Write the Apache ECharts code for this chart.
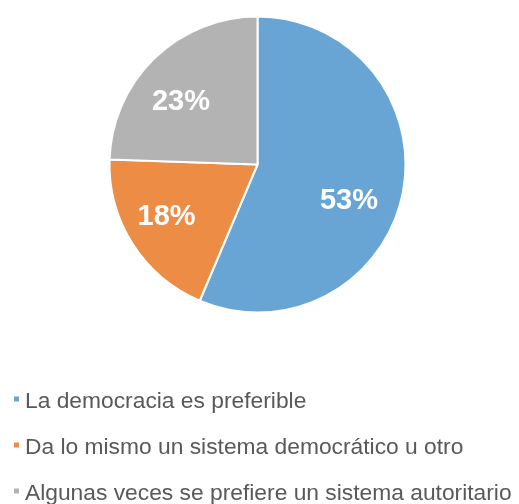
<!DOCTYPE html>
<html>
<head>
<meta charset="utf-8">
<script src="https://cdn.jsdelivr.net/npm/echarts@6/dist/echarts.min.js"></script>
<style>html,body{margin:0;padding:0;background:#fff}#c{width:519px;height:504px}</style>
</head>
<body>
<div id="c"></div>
<script>
var categories = ['La democracia es preferible', 'Da lo mismo un sistema democrático u otro', 'Algunas veces se prefiere un sistema autoritario'];
var values = [53, 18, 23];
var colors = ['#68A5D4', '#ED8D45', '#B3B3B3'];
var labelOffsets = [[16, 21], [-26, 11], [-23, -7]];

var chart = echarts.init(document.getElementById('c'), null, {renderer: 'canvas'});
var FONT = '"Liberation Sans", Arial, sans-serif';
chart.setOption({
  animation: false,
  backgroundColor: '#ffffff',
  legend: {
    orient: 'vertical',
    left: 7,
    top: 379,
    height: 300,
    itemWidth: 7,
    itemHeight: 13,
    itemGap: 10,
    icon: 'path://M0 0H7V7H0Z M0 13H0.01V13.01H0Z',
    data: categories,
    textStyle: {fontFamily: FONT, fontSize: 22.8, color: '#595959', lineHeight: 26, padding: [10, 0, 0, 0]}
  },
  series: [{
    type: 'pie',
    center: [257.5, 164.5],
    radius: [0, 148],
    startAngle: 90,
    clockwise: true,
    avoidLabelOverlap: false,
    itemStyle: {borderColor: '#ffffff', borderWidth: 2},
    label: {
      show: true,
      position: 'inside',
      formatter: '{c}%',
      color: '#ffffff',
      fontFamily: FONT,
      fontWeight: 'bold',
      fontSize: 29
    },
    labelLine: {show: false},
    emphasis: {disabled: true},
    data: categories.map(function (n, i) {
      return {name: n, value: values[i], itemStyle: {color: colors[i]}, label: {offset: labelOffsets[i]}};
    })
  }]
});
</script>
</body>
</html>
